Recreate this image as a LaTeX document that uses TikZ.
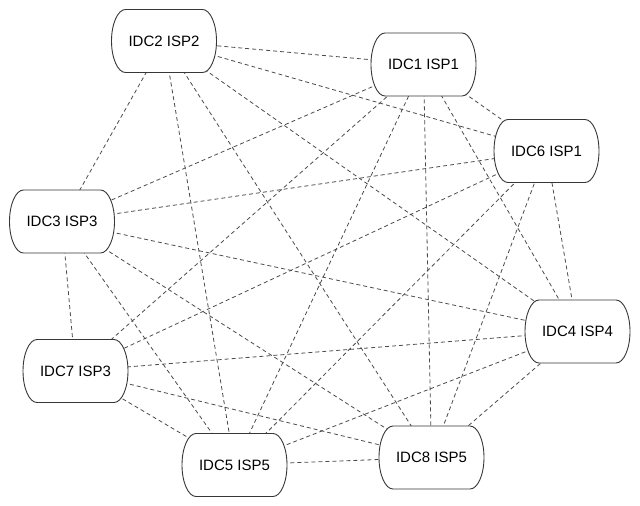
\documentclass[tikz,border=0pt]{standalone}
\usepackage{fontspec}
\setmainfont{Liberation Sans}
\usepackage{tikz}
\usetikzlibrary{shapes,positioning,backgrounds}
\usepackage{xcolor}
\definecolor{idcline}{RGB}{55,55,55}
\definecolor{idclink}{RGB}{75,75,75}
\tikzstyle{idc} = [minimum width=105pt, minimum height=63pt, inner sep=0pt, font=\fontsize{15}{18}\selectfont]
\tikzstyle{idcborder} = [draw=idcline, fill=white, line width=0.9pt]
\tikzstyle{link} = [draw=idclink, line width=0.8pt, dash pattern=on 4pt off 3pt]
% rounded box with bulging sides, then the named node on top
\newcommand{\idcnode}[3]{%
  \begin{scope}[shift={(#2)}]
    \draw[idcborder] (-38.5,-31.5) -- (38.5,-31.5)
      .. controls (46.2,-31.5) and (52.5,-17.3) .. (52.5,0)
      .. controls (52.5,17.3) and (46.2,31.5) .. (38.5,31.5)
      -- (-38.5,31.5)
      .. controls (-46.2,31.5) and (-52.5,17.3) .. (-52.5,0)
      .. controls (-52.5,-17.3) and (-46.2,-31.5) .. (-38.5,-31.5) -- cycle;
  \end{scope}
  \node[idc] (#1) at (#2) {#3};
}

\begin{document}
\begin{tikzpicture}[x=1pt, y=-1pt]
\useasboundingbox (0,0) rectangle (640,506);
% Data centres
\idcnode{idc1}{423.5,64.5}{IDC1 ISP1}
\idcnode{idc2}{164,41}{IDC2 ISP2}
\idcnode{idc3}{62,221.5}{IDC3 ISP3}
\idcnode{idc4}{577.5,331.5}{IDC4 ISP4}
\idcnode{idc5}{234.5,465}{IDC5 ISP5}
\idcnode{idc6}{546.5,151}{IDC6 ISP1}
\idcnode{idc7}{75.5,371}{IDC7 ISP3}
\idcnode{idc8}{431.5,457.5}{IDC8 ISP5}

% Links (every pair except IDC2 -- IDC7), behind the boxes
\begin{pgfonlayer}{background}
\foreach \a/\b in {1/2,1/3,1/4,1/5,1/6,1/7,1/8,
                   2/3,2/4,2/5,2/6,2/8,
                   3/4,3/5,3/6,3/7,3/8,
                   4/5,4/6,4/7,4/8,
                   5/6,5/7,5/8,
                   6/7,6/8,
                   7/8}
  \draw[link] (idc\a.center) -- (idc\b.center);
\end{pgfonlayer}
\end{tikzpicture}
\end{document}
